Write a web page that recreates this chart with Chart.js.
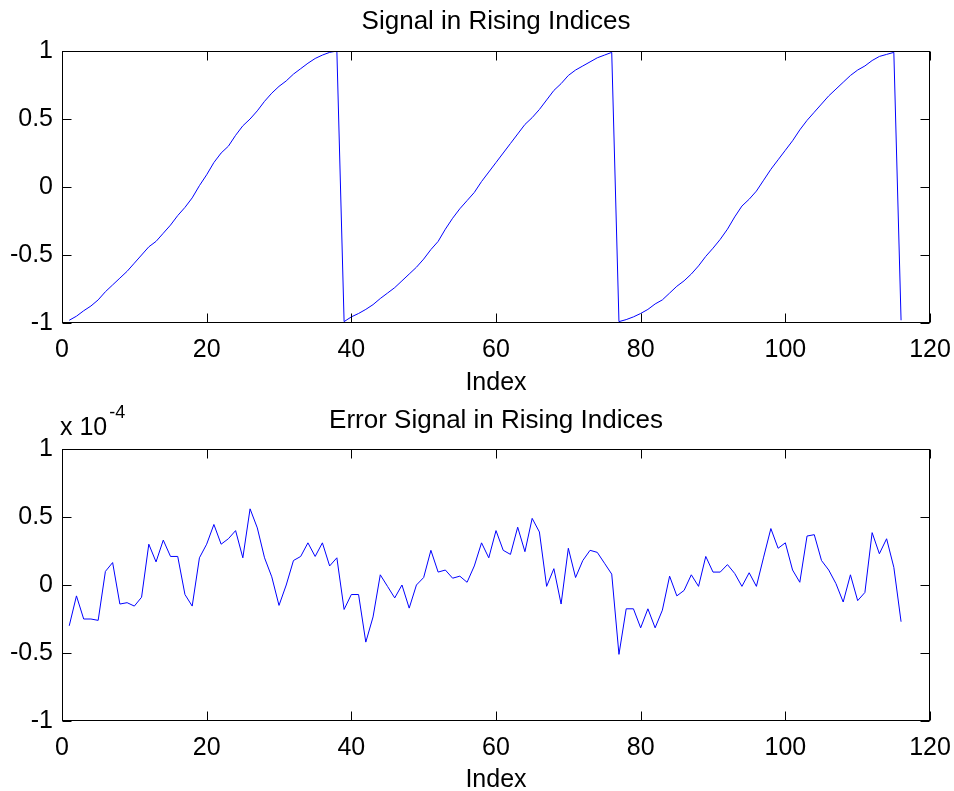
<!DOCTYPE html>
<html>
<head>
<meta charset="utf-8">
<script src="https://cdn.jsdelivr.net/npm/chart.js@4/dist/chart.umd.min.js"></script>
<style>
  html, body { margin: 0; padding: 0; background: #ffffff; }
  #wrap { position: relative; width: 954px; height: 791px; background: #ffffff; }
  canvas { position: absolute; left: 0; }
  #c1 { top: 0; }
  #c2 { top: 395px; }
</style>
</head>
<body>
<div id="wrap">
  <canvas id="c1" width="954" height="395"></canvas>
  <canvas id="c2" width="954" height="396"></canvas>
</div>
<script>
// ---- data ----
const indices = [1,2,3,4,5,6,7,8,9,10,11,12,13,14,15,16,17,18,19,20,
  21,22,23,24,25,26,27,28,29,30,31,32,33,34,35,36,37,38,39,40,
  41,42,43,44,45,46,47,48,49,50,51,52,53,54,55,56,57,58,59,60,
  61,62,63,64,65,66,67,68,69,70,71,72,73,74,75,76,77,78,79,80,
  81,82,83,84,85,86,87,88,89,90,91,92,93,94,95,96,97,98,99,100,
  101,102,103,104,105,106,107,108,109,110,111,112,113,114,115,116];

const signalValues = [
  -0.98,-0.95,-0.91,-0.875,-0.83,-0.77,-0.72,-0.67,-0.62,-0.56,
  -0.50,-0.44,-0.40,-0.34,-0.28,-0.21,-0.15,-0.08,0.01,0.09,
  0.18,0.25,0.30,0.38,0.45,0.50,0.56,0.63,0.69,0.74,
  0.78,0.83,0.87,0.91,0.945,0.97,0.99,1.00,
  -0.99,-0.955,-0.93,-0.90,-0.865,-0.82,-0.78,-0.74,-0.69,-0.64,
  -0.59,-0.53,-0.46,-0.40,-0.31,-0.23,-0.16,-0.10,-0.04,0.04,
  0.11,0.18,0.25,0.32,0.39,0.46,0.51,0.57,0.64,0.71,
  0.76,0.82,0.86,0.89,0.92,0.95,0.97,0.99,
  -0.99,-0.975,-0.955,-0.93,-0.90,-0.86,-0.83,-0.78,-0.73,-0.69,
  -0.64,-0.58,-0.51,-0.45,-0.385,-0.31,-0.22,-0.14,-0.09,-0.03,
  0.05,0.13,0.20,0.27,0.34,0.42,0.49,0.55,0.61,0.67,
  0.72,0.77,0.82,0.86,0.89,0.93,0.96,0.975,0.99,
  -0.98];

// error values in units of 1e-4
const errorExponent = -4;
const errorValues = [
  -0.30,-0.08,-0.25,-0.25,-0.26,0.10,0.165,-0.14,-0.13,-0.155,
  -0.09,0.30,0.17,0.33,0.21,0.21,-0.07,-0.155,0.20,0.30,
  0.445,0.30,0.34,0.40,0.20,0.56,0.42,0.20,0.06,-0.15,
  0.00,0.18,0.21,0.31,0.21,0.31,0.14,0.20,-0.18,-0.07,
  -0.07,-0.42,-0.235,0.075,-0.01,-0.095,0.00,-0.17,0.00,0.055,
  0.255,0.095,0.11,0.05,0.065,0.02,0.14,0.31,0.20,0.40,
  0.255,0.225,0.425,0.245,0.49,0.39,-0.01,0.12,-0.14,0.27,
  0.055,0.18,0.255,0.24,0.16,0.08,-0.51,-0.175,-0.175,-0.315,
  -0.175,-0.315,-0.185,0.065,-0.08,-0.04,0.075,-0.01,0.21,0.095,
  0.095,0.15,0.085,-0.01,0.09,-0.01,0.205,0.415,0.27,0.31,
  0.11,0.02,0.36,0.37,0.18,0.11,0.01,-0.125,0.075,-0.115,
  -0.055,0.385,0.23,0.34,0.13,-0.27];

const xTickValues = [0, 20, 40, 60, 80, 100, 120];
const yTickValues = [-1, -0.5, 0, 0.5, 1];
const titles = ['Signal in Rising Indices', 'Error Signal in Rising Indices'];
const xLabel = 'Index';

// ---- drawing ----
const FONT = "'Liberation Sans', Arial, Helvetica, sans-serif";
const FS = 25;
const TFS = 26;

const boxTicks = {
  id: 'boxTicks',
  afterDraw(chart) {
    const {ctx, chartArea: a, scales: {x, y}} = chart;
    ctx.save();
    ctx.strokeStyle = '#000000';
    ctx.lineWidth = 1;
    const L = Math.round(a.left) + 0.5, R = Math.round(a.right) - 0.5;
    const T = Math.round(a.top) + 0.5, B = Math.round(a.bottom) - 0.5;
    ctx.strokeRect(L, T, R - L, B - T);
    ctx.beginPath();
    x.ticks.forEach(t => {
      const px = Math.round(x.getPixelForValue(t.value)) + 0.5;
      ctx.moveTo(px, B); ctx.lineTo(px, B - 9);
      ctx.moveTo(px, T); ctx.lineTo(px, T + 9);
    });
    y.ticks.forEach(t => {
      const py = Math.round(y.getPixelForValue(t.value)) + 0.5;
      ctx.moveTo(L, py); ctx.lineTo(L + 9, py);
      ctx.moveTo(R, py); ctx.lineTo(R - 9, py);
    });
    ctx.stroke();
    ctx.restore();
  }
};

const exponentLabel = {
  id: 'exponentLabel',
  afterDraw(chart, args, opts) {
    if (!opts || !opts.show) return;
    const ctx = chart.ctx;
    ctx.save();
    ctx.fillStyle = '#000000';
    ctx.textBaseline = 'alphabetic';
    ctx.textAlign = 'left';
    ctx.font = FS + 'px ' + FONT;
    const base = 'x 10';
    ctx.fillText(base, 60, 40);
    const w = ctx.measureText(base).width;
    ctx.font = Math.round(FS * 0.7) + 'px ' + FONT;
    ctx.fillText(String(errorExponent), 60 + w + 2, 23);
    ctx.restore();
  }
};

function makeChart(canvasId, values, titleText, cfg) {
  const pts = indices.map((xv, i) => ({x: xv, y: values[i]}));
  return new Chart(document.getElementById(canvasId), {
    type: 'line',
    data: {
      datasets: [{
        data: pts,
        borderColor: '#0000ff',
        borderWidth: 1,
        pointRadius: 0,
        tension: 0,
        fill: false
      }]
    },
    options: {
      responsive: false,
      animation: false,
      events: [],
      layout: { padding: { left: 0, right: 24, top: 0, bottom: 0 } },
      plugins: {
        legend: { display: false },
        tooltip: { enabled: false },
        title: {
          display: true,
          fullSize: false,
          text: titleText,
          color: '#000000',
          font: { family: FONT, size: TFS, weight: 'normal', lineHeight: 1.2 },
          padding: { top: cfg.titleTop, bottom: cfg.titleBottom }
        },
        exponentLabel: { show: cfg.exponent }
      },
      scales: {
        x: {
          type: 'linear',
          min: 0, max: 120,
          afterBuildTicks(s) { s.ticks = xTickValues.map(v => ({value: v})); },
          afterFit(s) { s.height = cfg.xHeight; s.paddingLeft = 0; s.paddingRight = 0; },
          grid: { display: false, drawTicks: false },
          border: { display: false },
          ticks: {
            color: '#000000', padding: 12, maxRotation: 0,
            font: { family: FONT, size: FS },
            callback: v => String(v)
          },
          title: {
            display: true, text: xLabel, color: '#000000',
            font: { family: FONT, size: FS, lineHeight: 0.9 },
            padding: { top: 0, bottom: cfg.xTitleBottom }
          }
        },
        y: {
          type: 'linear',
          min: -1, max: 1,
          afterBuildTicks(s) { s.ticks = yTickValues.map(v => ({value: v})); },
          afterFit(s) { s.width = 62; s.paddingTop = 0; s.paddingBottom = 0; },
          grid: { display: false, drawTicks: false },
          border: { display: false },
          ticks: {
            color: '#000000', padding: 9,
            font: { family: FONT, size: FS },
            callback: v => String(v)
          }
        }
      }
    },
    plugins: [boxTicks, exponentLabel]
  });
}

makeChart('c1', signalValues, titles[0],
  { titleTop: 6.4, titleBottom: 13.4, xHeight: 72, xTitleBottom: 0.75, exponent: false });
makeChart('c2', errorValues, titles[1],
  { titleTop: 10.4, titleBottom: 12.4, xHeight: 70, xTitleBottom: 0, exponent: true });
</script>
</body>
</html>
